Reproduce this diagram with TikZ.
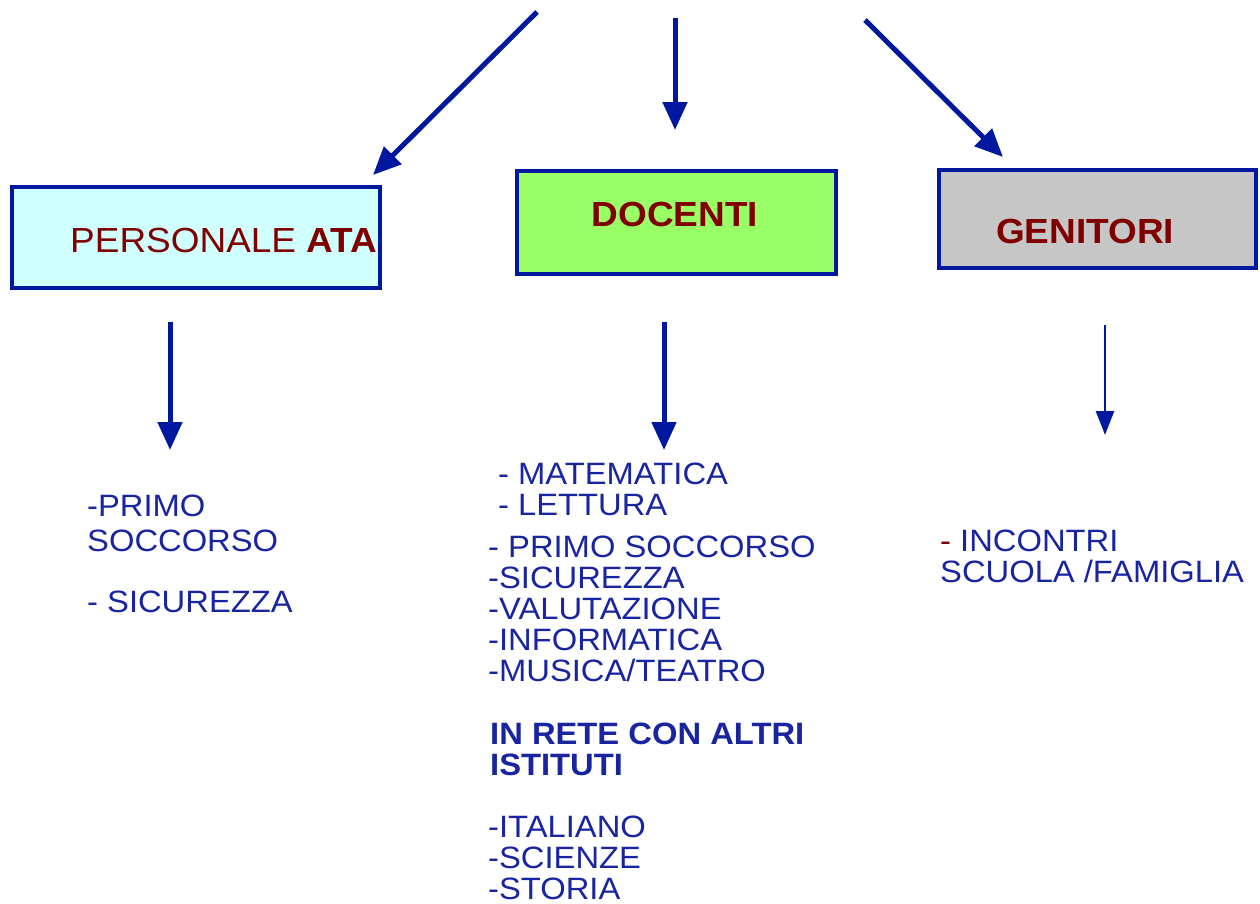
\documentclass[tikz,border=0pt]{standalone}
\usepackage{fontspec}
\setmainfont{Liberation Sans}[FakeStretch=1.06]
\usetikzlibrary{arrows.meta}
\definecolor{arrblue}{RGB}{0,24,160}
\definecolor{txtblue}{RGB}{24,36,160}
\definecolor{boxred}{RGB}{128,0,0}
\definecolor{atafill}{RGB}{208,255,255}
\definecolor{docfill}{RGB}{153,255,102}
\definecolor{genfill}{RGB}{198,198,198}
\begin{document}
\begin{tikzpicture}[x=1bp,y=-1bp,>={Triangle[length=28bp,width=24bp]},
	box/.style={draw=arrblue,line width=4bp,inner sep=0pt},
	title/.style={text=boxred,inner sep=0pt,font=\fontsize{35}{35}\selectfont},
	list/.style={text=txtblue,inner sep=0pt,anchor=north west,align=left,font=\fontsize{31}{31}\selectfont},
	bigarr/.style={->,draw=arrblue,line width=5bp},
	thinarr/.style={-{Triangle[length=24bp,width=18bp]},draw=arrblue,line width=2.5bp}]
	\useasboundingbox (0,0) rectangle (1260,904);
	% boxes
	\node[box,fill=atafill,minimum width=368bp,minimum height=101bp] (ata) at (196,237.5) {};
	\node[box,fill=docfill,minimum width=319bp,minimum height=103bp] (doc) at (676.5,222.5) {};
	\node[box,fill=genfill,minimum width=317bp,minimum height=98bp] (gen) at (1097.5,219) {};
	\node[title,anchor=base west] (ataT) at (70,252) {PERSONALE \textbf{ATA}};
	\node[title,anchor=base] (docT) at (675,226) {\textbf{DOCENTI}};
	\node[title,anchor=base] (genT) at (1085,243) {\textbf{GENITORI}};
	% arrows
	\coordinate (a1) at (537,12);   \coordinate (a1e) at (373,175);
	\coordinate (a2) at (675,18);   \coordinate (a2e) at (675,130);
	\coordinate (a3) at (865,20);   \coordinate (a3e) at (1003,157);
	\coordinate (b1) at (170,322);  \coordinate (b1e) at (170,450);
	\coordinate (b2) at (664,322);  \coordinate (b2e) at (664,450);
	\coordinate (b3) at (1105,325); \coordinate (b3e) at (1105,435);
	\draw[bigarr] (a1)--(a1e);
	\draw[bigarr] (a2)--(a2e);
	\draw[bigarr] (a3)--(a3e);
	\draw[bigarr] (b1)--(b1e);
	\draw[bigarr] (b2)--(b2e);
	\draw[thinarr] (b3)--(b3e);
	% lists
	\node[list] (ataL) at (87,495) {-PRIMO\\[4bp]SOCCORSO\\[30bp]- SICUREZZA};
	\node[list] (docL1) at (498,463) {- MATEMATICA\\- LETTURA};
	\node[list] (docL2) at (488,536) {- PRIMO SOCCORSO\\-SICUREZZA\\-VALUTAZIONE\\-INFORMATICA\\-MUSICA/TEATRO};
	\node[list,font=\fontsize{31}{31}\selectfont\bfseries] (docR) at (490,723) {IN RETE CON ALTRI\\ISTITUTI};
	\node[list] (docL3) at (488,816) {-ITALIANO\\-SCIENZE\\-STORIA};
	\node[list] (genL) at (940,530) {\textcolor{boxred}{-} INCONTRI\\SCUOLA /FAMIGLIA};
\end{tikzpicture}
\end{document}
